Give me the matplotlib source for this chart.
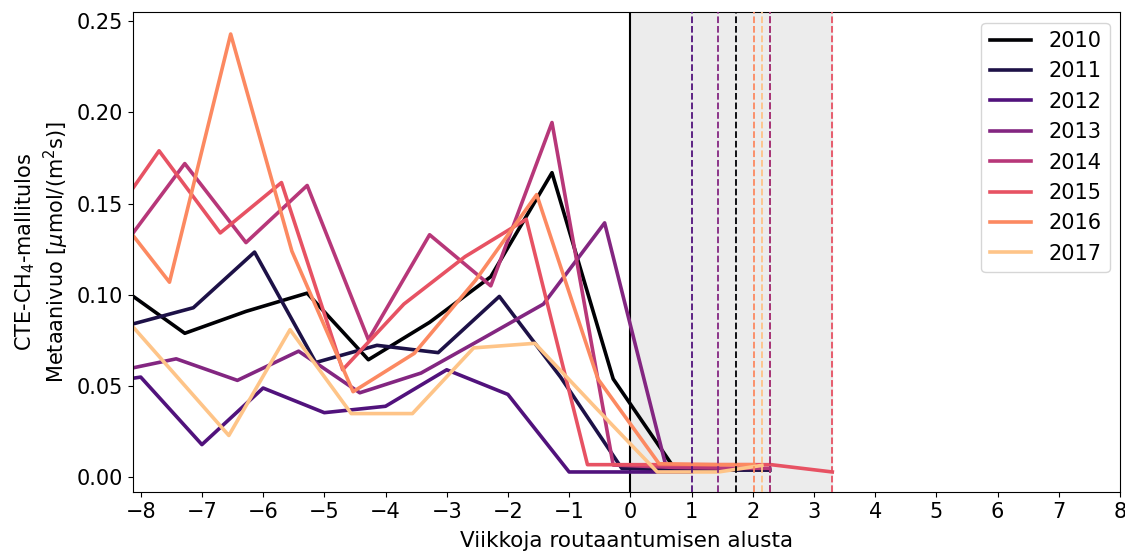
import numpy as np
import matplotlib
matplotlib.use("Agg")
import matplotlib.pyplot as plt

# years and weekly model output relative to freeze-up start
years = ["2010", "2011", "2012", "2013", "2014", "2015", "2016", "2017"]

weeks_2010 = [-8.28, -7.28, -6.28, -5.28, -4.28, -3.28, -2.28, -1.28, -0.28, 0.72, 1.72]
flux_2010 = [0.103, 0.079, 0.091, 0.101, 0.0645, 0.085, 0.110, 0.167, 0.054, 0.005, 0.004]

weeks_2011 = [-8.14, -7.14, -6.14, -5.14, -4.14, -3.14, -2.14, -1.14, -0.14, 0.86, 1.86, 2.28]
flux_2011 = [0.084, 0.093, 0.1235, 0.063, 0.0724, 0.0684, 0.0992, 0.055, 0.005, 0.004, 0.004, 0.004]

weeks_2012 = [-9, -8, -7, -6, -5, -4, -3, -2, -1, 0, 1]
flux_2012 = [0.05, 0.055, 0.018, 0.049, 0.0355, 0.039, 0.059, 0.0455, 0.003, 0.003, 0.003]

weeks_2013 = [-8.42, -7.42, -6.42, -5.42, -4.42, -3.42, -2.42, -1.42, -0.42, 0.58, 1.43]
flux_2013 = [0.058, 0.065, 0.0532, 0.0692, 0.0464, 0.0572, 0.076, 0.095, 0.1395, 0.0065, 0.006]

weeks_2014 = [-8.28, -7.28, -6.28, -5.28, -4.28, -3.28, -2.28, -1.28, -0.28, 0.72, 1.72, 2.28]
flux_2014 = [0.127, 0.172, 0.1287, 0.160, 0.0755, 0.133, 0.105, 0.1945, 0.0068, 0.0055, 0.005, 0.005]

weeks_2015 = [-8.7, -7.7, -6.7, -5.7, -4.7, -3.7, -2.7, -1.7, -0.7, 0.3, 1.3, 2.3, 3.3]
flux_2015 = [0.131, 0.179, 0.134, 0.1616, 0.059, 0.095, 0.121, 0.1415, 0.007, 0.007, 0.007, 0.007, 0.003]

weeks_2016 = [-8.53, -7.53, -6.53, -5.53, -4.53, -3.53, -2.53, -1.53, -0.53, 0.47, 1.47, 2.02]
flux_2016 = [0.150, 0.107, 0.243, 0.124, 0.047, 0.068, 0.108, 0.155, 0.054, 0.0075, 0.007, 0.007]

weeks_2017 = [-8.56, -7.56, -6.56, -5.56, -4.56, -3.56, -2.56, -1.56, -0.56, 0.44, 1.44, 2.15]
flux_2017 = [0.099, 0.061, 0.023, 0.081, 0.035, 0.035, 0.071, 0.0735, 0.038, 0.003, 0.003, 0.0066]

all_weeks = [weeks_2010, weeks_2011, weeks_2012, weeks_2013,
             weeks_2014, weeks_2015, weeks_2016, weeks_2017]
all_flux = [flux_2010, flux_2011, flux_2012, flux_2013,
            flux_2014, flux_2015, flux_2016, flux_2017]

colors = plt.cm.magma(np.linspace(0, 0.875, 8))

plt.rcParams['font.size'] = 15

fig, ax = plt.subplots(figsize=(11.25, 5.51), dpi=100)
fig.subplots_adjust(left=0.118, right=0.9955, top=0.978, bottom=0.107)

# freezing period
freeze_end = max(w[-1] for w in all_weeks)
ax.axvspan(0, freeze_end, color='#ececec', zorder=0)
ax.axvline(0, color='black', lw=1.5, zorder=1)

for year, w, f, c in zip(years, all_weeks, all_flux, colors):
    ax.plot(w, f, color=c, lw=2.6, label=year, zorder=2)
    ax.axvline(w[-1], color=c, ls='--', lw=1.3, zorder=3)

ax.set_xlim(-8.13, 8)
ax.set_ylim(-0.008, 0.255)
ax.set_xticks(range(-8, 9))
ax.set_yticks([0, 0.05, 0.10, 0.15, 0.20, 0.25])
ax.yaxis.set_major_formatter(matplotlib.ticker.FormatStrFormatter('%.2f'))
ax.set_xlabel('Viikkoja routaantumisen alusta', labelpad=7, fontsize=15.5)
ax.set_ylabel('CTE-CH$_4$-mallitulos\nMetaanivuo [$\\mu$mol/(m$^2$s)]')
ax.legend(loc='upper right', fontsize=15)

plt.savefig('out.png')
